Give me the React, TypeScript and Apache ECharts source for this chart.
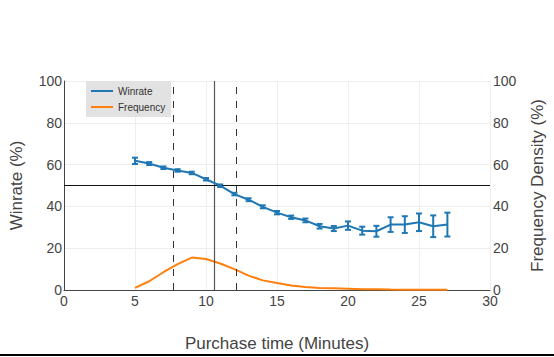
import React, { useEffect, useRef } from "react";
import * as echarts from "echarts";

const minutes = [5, 6, 7, 8, 9, 10, 11, 12, 13, 14, 15, 16, 17, 18, 19, 20, 21, 22, 23, 24, 25, 26, 27];
const winrate = [61.8, 60.5, 58.5, 57.2, 56.0, 53.0, 49.9, 45.9, 43.2, 39.8, 37.0, 34.8, 33.3, 30.5, 29.4, 30.8, 28.4, 28.1, 31.3, 31.3, 32.4, 30.5, 31.3];
const winrateErr = [1.5, 0.7, 0.6, 0.6, 0.6, 0.6, 0.6, 0.6, 0.7, 0.7, 0.8, 0.8, 0.9, 1.1, 1.2, 2.0, 1.9, 2.6, 3.5, 4.0, 4.2, 5.2, 5.7];
const frequency = [1.0, 4.2, 8.5, 12.4, 15.5, 14.8, 12.7, 10.0, 6.9, 4.6, 3.3, 2.2, 1.4, 1.0, 0.8, 0.6, 0.4, 0.3, 0.2, 0.15, 0.1, 0.1, 0.1];
const dashedLines = [7.66, 12.16];
const solidLine = 10.61;
const halfLine = 50;

const FONT = "'Liberation Sans', Arial, sans-serif";

export default function App() {
  const ref = useRef<HTMLDivElement>(null);
  useEffect(() => {
    const chart = echarts.init(ref.current!, null, { renderer: "svg" });
    const errData = minutes.map((m, i) => [m, winrate[i] - winrateErr[i], winrate[i] + winrateErr[i]]);
    chart.setOption({
      animation: false,
      textStyle: { fontFamily: FONT },
      grid: { left: 63, right: 64, top: 81, bottom: 64 },
      legend: {
        left: 86,
        top: 81,
        orient: "vertical",
        backgroundColor: "#e2e2e2",
        borderRadius: 0,
        padding: [5, 6, 5, 5],
        itemGap: 6,
        itemWidth: 22,
        itemHeight: 2,
        icon: "rect",
        textStyle: { fontSize: 10, color: "#333", fontFamily: FONT },
        data: ["Winrate", "Frequency"],
      },
      xAxis: {
        type: "value",
        min: 0,
        max: 30,
        interval: 5,
        name: "Purchase time (Minutes)",
        nameLocation: "middle",
        nameGap: 45,
        nameTextStyle: { fontSize: 17, color: "#444", fontFamily: FONT },
        axisLine: { lineStyle: { color: "#444", width: 1 } },
        axisTick: { show: false },
        axisLabel: { fontSize: 14, color: "#444", margin: 4, fontFamily: FONT },
        splitLine: { lineStyle: { color: "#eeeeee" } },
      },
      yAxis: [
        {
          type: "value",
          min: 0,
          max: 100,
          interval: 20,
          name: "Winrate (%)",
          nameLocation: "middle",
          nameGap: 39,
          nameTextStyle: { fontSize: 17, color: "#444", fontFamily: FONT },
          axisLine: { show: true, lineStyle: { color: "#444", width: 1 } },
          axisTick: { show: false },
          axisLabel: { fontSize: 14, color: "#444", margin: 2, fontFamily: FONT },
          splitLine: { lineStyle: { color: "#eeeeee" } },
        },
        {
          type: "value",
          min: 0,
          max: 100,
          interval: 20,
          position: "right",
          name: "Frequency Density (%)",
          nameLocation: "middle",
          nameGap: 39,
          nameTextStyle: { fontSize: 17, color: "#444", fontFamily: FONT },
          axisLine: { show: false },
          axisTick: { show: false },
          axisLabel: { fontSize: 14, color: "#444", margin: 3, fontFamily: FONT },
          splitLine: { show: false },
        },
      ],
      series: [
        {
          name: "Winrate",
          type: "line",
          yAxisIndex: 0,
          data: minutes.map((m, i) => [m, winrate[i]]),
          showSymbol: false,
          symbol: "none",
          color: "#1f77b4",
          lineStyle: { color: "#1f77b4", width: 2 },
          z: 5,
          markLine: {
            silent: true,
            symbol: "none",
            label: { show: false },
            data: [
              ...dashedLines.map((v) => ({ xAxis: v, lineStyle: { color: "#333", type: [7, 7], width: 1 } })),
              { xAxis: solidLine, lineStyle: { color: "#555", type: "solid", width: 1.2 } },
              { yAxis: halfLine, lineStyle: { color: "#111", type: "solid", width: 1 } },
            ],
          },
        },
        {
          name: "WinrateErr",
          type: "custom",
          yAxisIndex: 0,
          data: errData,
          z: 6,
          renderItem: (params: any, api: any) => {
            const x = api.value(0);
            const lo = api.coord([x, api.value(1)]);
            const hi = api.coord([x, api.value(2)]);
            const c = 3;
            const style = { stroke: "#1f77b4", lineWidth: 2 };
            return {
              type: "group",
              children: [
                { type: "line", shape: { x1: lo[0], y1: lo[1], x2: hi[0], y2: hi[1] }, style },
                { type: "line", shape: { x1: lo[0] - c, y1: lo[1], x2: lo[0] + c, y2: lo[1] }, style },
                { type: "line", shape: { x1: hi[0] - c, y1: hi[1], x2: hi[0] + c, y2: hi[1] }, style },
              ],
            };
          },
        },
        {
          name: "Frequency",
          type: "line",
          yAxisIndex: 1,
          data: minutes.map((m, i) => [m, frequency[i]]),
          showSymbol: false,
          symbol: "none",
          color: "#ff7f0e",
          lineStyle: { color: "#ff7f0e", width: 2 },
          z: 4,
        },
      ],
      graphic: [
        { type: "rect", left: 0, top: 354, shape: { width: 554, height: 2 }, style: { fill: "#000" } },
      ],
    });
    return () => chart.dispose();
  }, []);
  return <div ref={ref} style={{ width: 554, height: 357, position: "absolute", left: 0, top: 0 }} />;
}
